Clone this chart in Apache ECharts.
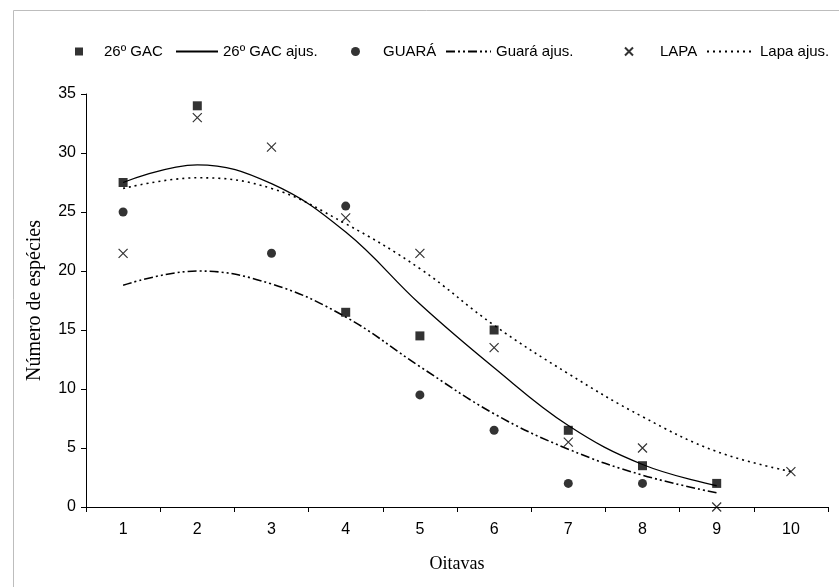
<!DOCTYPE html>
<html>
<head>
<meta charset="utf-8">
<script src="https://cdn.jsdelivr.net/npm/echarts@6/dist/echarts.min.js"></script>
<style>html,body{margin:0;padding:0;background:#fff}#c{width:839px;height:587px}</style>
</head>
<body>
<div id="c"></div>
<script>
const categories = ['1','2','3','4','5','6','7','8','9','10'];
const gac      = [27.5, 34, null, 16.5, 14.5, 15, 6.5, 3.5, 2, null];
const gacAjus  = [27.5, 29.0, 27.4, 23.3, 17.2, 11.8, 6.9, 3.6, 1.8, null];
const guara    = [25, null, 21.5, 25.5, 9.5, 6.5, 2, 2, null, null];
const guaraAjus= [18.8, 20.0, 18.9, 16.1, 11.9, 7.9, 4.9, 2.7, 1.2, null];
const lapa     = [21.5, 33, 30.5, 24.5, 21.5, 13.5, 5.5, 5, 0, 3];
const lapaAjus = [27.0, 27.9, 27.0, 24.0, 20.2, 15.4, 11.3, 7.65, 4.7, 3.0];
const yTicks = {min: 0, max: 35, interval: 5};

const chart = echarts.init(document.getElementById('c'), null, {renderer: 'canvas'});
const sans = "'Liberation Sans', Arial, sans-serif";
const serif = "'Liberation Serif', 'Times New Roman', serif";
function leg(name, left, w, h, pad, isLine) {
  const o = {data: [name], left: left, top: 44, itemWidth: w, itemHeight: h, padding: 0,
    selectedMode: false,
    textStyle: {fontFamily: sans, fontSize: 15, color: '#000', rich: {s: {width: pad}}},
    formatter: pad > 0 ? (n) => '{s| }' + n : (n) => n};
  if (isLine) o.itemStyle = {color: 'rgba(0,0,0,0)', borderWidth: 0};
  return o;
}
const xPath = 'path://M0,0L10,10M0,10L10,0';
chart.setOption({
  animation: false,
  backgroundColor: '#fff',
  graphic: [{type: 'rect', shape: {x: 13.5, y: 10.5, width: 900, height: 700},
    style: {fill: 'none', stroke: '#bdbdbd', lineWidth: 1}, silent: true}],
  legend: [
    leg('26º GAC', 75, 8, 8, 16, false),
    leg('26º GAC ajus.', 175, 42, 14, 0, true),
    leg('GUARÁ', 351, 9, 9, 18, false),
    leg('Guará ajus.', 445, 45, 14, 0, true),
    leg('LAPA', 624, 8, 8, 22, false),
    leg('Lapa ajus.', 706, 48, 14, 0, true)
  ],
  grid: {left: 86, right: 11, top: 94, bottom: 80, containLabel: false},
  xAxis: {
    type: 'category', data: categories, boundaryGap: true,
    name: 'Oitavas', nameLocation: 'middle', nameGap: 48,
    nameTextStyle: {fontFamily: serif, fontSize: 18, color: '#000'},
    axisLine: {lineStyle: {color: '#000', width: 1}},
    axisTick: {show: true, length: 5, lineStyle: {color: '#000'}},
    axisLabel: {color: '#000', fontFamily: sans, fontSize: 16, margin: 15},
    splitLine: {show: false}
  },
  yAxis: {
    type: 'value', min: yTicks.min, max: yTicks.max, interval: yTicks.interval,
    name: 'Número de espécies', nameLocation: 'middle', nameGap: 41, nameRotate: 90,
    nameTextStyle: {fontFamily: serif, fontSize: 20, color: '#000'},
    axisLine: {show: true, lineStyle: {color: '#000', width: 1}},
    axisTick: {show: true, length: 5, lineStyle: {color: '#000'}},
    axisLabel: {color: '#000', fontFamily: sans, fontSize: 16, margin: 10},
    splitLine: {show: false}
  },
  series: [
    {name: '26º GAC', type: 'scatter', data: gac, symbol: 'rect', symbolSize: 9,
      itemStyle: {color: '#000'}, z: 5},
    {name: '26º GAC ajus.', type: 'line', data: gacAjus, smooth: 0.4, symbol: 'none',
      lineStyle: {color: '#000', width: 1.3, type: 'solid'}, itemStyle: {color: '#000'}},
    {name: 'GUARÁ', type: 'scatter', data: guara, symbol: 'circle', symbolSize: 9,
      itemStyle: {color: '#000'}, z: 5},
    {name: 'Guará ajus.', type: 'line', data: guaraAjus, smooth: 0.4, symbol: 'none',
      lineStyle: {color: '#000', width: 1.6, type: [9, 3, 2, 3, 2, 3]}, itemStyle: {color: '#000'}},
    {name: 'LAPA', type: 'scatter', data: lapa, symbol: xPath, symbolSize: 9,
      itemStyle: {color: 'rgba(0,0,0,0)', borderColor: '#000', borderWidth: 1.2}, z: 5},
    {name: 'Lapa ajus.', type: 'line', data: lapaAjus, smooth: 0.4, symbol: 'none',
      lineStyle: {color: '#000', width: 1.6, type: [2, 4]}, itemStyle: {color: '#000'}}
  ]
});
</script>
</body>
</html>
